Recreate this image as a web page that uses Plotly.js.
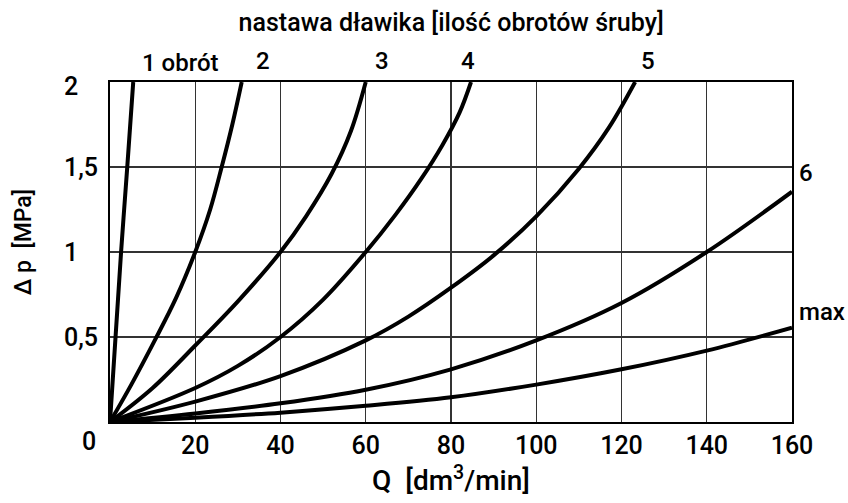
<!DOCTYPE html>
<html>
<head>
<meta charset="utf-8">
<script src="https://cdn.plot.ly/plotly-3.0.1.min.js"></script>
<style>html,body{margin:0;padding:0;background:#fff;}#chart{width:848px;height:503px;}</style>
</head>
<body>
<div id="chart"></div>
<script>
// ---- data ----
const seriesNames = ["1 obrót", "2", "3", "4", "5", "6", "max"];
const q1 = [0, 1.3, 2.6, 4.05, 5.45];
const p1 = [0, 0.5, 1.0, 1.5, 2.0];
const q2 = [0, 5, 10.5, 15.5, 20, 23.5, 26.2, 28.7, 30.9];
const p2 = [0, 0.22, 0.48, 0.73, 1.0, 1.25, 1.5, 1.75, 2.0];
const q3 = [0, 10, 20, 30, 40, 46, 52, 56.5, 60];
const p3 = [0, 0.2, 0.45, 0.71, 1.0, 1.21, 1.46, 1.71, 2.0];
const q4 = [0, 20, 30, 40, 50, 60, 67, 73, 78, 82, 84.7];
const p4 = [0, 0.2, 0.33, 0.5, 0.72, 1.0, 1.22, 1.43, 1.63, 1.82, 2.0];
const q5 = [0, 20, 40, 60, 70, 80, 90, 100, 110, 117, 123.2];
const p5 = [0, 0.12, 0.27, 0.48, 0.62, 0.79, 0.98, 1.21, 1.49, 1.73, 2.0];
const q6 = [0, 20, 40, 60, 80, 100, 120, 140, 160];
const p6 = [0, 0.05, 0.11, 0.19, 0.31, 0.48, 0.70, 1.0, 1.355];
const qMax = [0, 20, 40, 60, 80, 100, 120, 140, 160];
const pMax = [0, 0.025, 0.055, 0.095, 0.145, 0.22, 0.31, 0.42, 0.555];

const xTickVals = [20, 40, 60, 80, 100, 120, 140, 160];
const xTickText = ["20", "40", "60", "80", "100", "120", "140", "160"];
const yTickVals = [0.5, 1, 1.5, 2];
const yTickText = ["0,5", "1", "1,5", "2"];
const originLabel = "0";

const titleText = "nastawa dławika [ilość obrotów śruby]";
const xTitle = "Q  [dm<sup>3</sup>/min]";
const yTitle = "Δ p  [MPa]";

// label positions (paper fractions) for curve names
const labelX = [0.104, 0.224, 0.399, 0.525, 0.789, 1.007, 1.007];
const labelY = [1.056, 1.062, 1.062, 1.062, 1.062, 0.732, 0.3235];

// ---- build figure ----
const FONT = "Roboto, Open Sans, DejaVu Sans, sans-serif";
const W = 500;
const qs = [q1, q2, q3, q4, q5, q6, qMax];
const ps = [p1, p2, p3, p4, p5, p6, pMax];
const traces = qs.map((q, i) => ({
  x: q, y: ps[i], type: "scatter", mode: "lines", name: seriesNames[i],
  line: {color: "#000", width: 4, shape: "spline", smoothing: 1},
  cliponaxis: true, hoverinfo: "x+y+name"
}));

const annotations = [];
seriesNames.forEach((n, i) => {
  annotations.push({
    x: labelX[i], y: labelY[i], xref: "paper", yref: "paper", text: n, showarrow: false,
    xanchor: i >= 5 ? "left" : "center", yanchor: "middle",
    font: {family: FONT, size: 24, color: "#000", weight: W}
  });
});
yTickVals.forEach((v, i) => {
  annotations.push({
    x: -0.0704, y: v / 2, xref: "paper", yref: "paper", text: yTickText[i], showarrow: false,
    xanchor: "left", yanchor: "middle", yshift: v === 2 ? -4 : 0,
    font: {family: FONT, size: 25, color: "#000", weight: W}
  });
});
annotations.push({
  x: -0.031, y: -0.058, xref: "paper", yref: "paper", text: originLabel, showarrow: false,
  xanchor: "center", yanchor: "middle", font: {family: FONT, size: 25, color: "#000", weight: W}
});
annotations.push({
  x: -0.127, y: 0.53, xref: "paper", yref: "paper", text: yTitle, showarrow: false,
  textangle: -90, xanchor: "center", yanchor: "middle", font: {family: FONT, size: 23, color: "#000", weight: W}
});

const layout = {
  width: 848, height: 503,
  margin: {l: 110, r: 56, t: 82, b: 81},
  paper_bgcolor: "#fff", plot_bgcolor: "#fff",
  showlegend: false,
  title: {text: titleText, x: 0.532, xanchor: "center", y: 0.955, yanchor: "middle",
          font: {family: FONT, size: 25, color: "#000", weight: W}},
  xaxis: {
    range: [0, 160], tickvals: xTickVals, ticktext: xTickText,
    showgrid: true, gridcolor: "#333", gridwidth: 1.2, zeroline: false,
    showline: true, mirror: true, linecolor: "#000", linewidth: 1.6, ticks: "",
    tickfont: {family: FONT, size: 25, color: "#000", weight: W},
    title: {text: xTitle, standoff: 12, font: {family: FONT, size: 28, color: "#000", weight: W}},
    automargin: false, fixedrange: true
  },
  yaxis: {
    range: [0, 2], tickvals: yTickVals, showticklabels: false,
    showgrid: true, gridcolor: "#333", gridwidth: 1.2, zeroline: false,
    showline: true, mirror: true, linecolor: "#000", linewidth: 1.6, ticks: "",
    automargin: false, fixedrange: true
  },
  annotations: annotations
};

Plotly.newPlot("chart", traces, layout, {displayModeBar: false, staticPlot: true});
</script>
</body>
</html>
